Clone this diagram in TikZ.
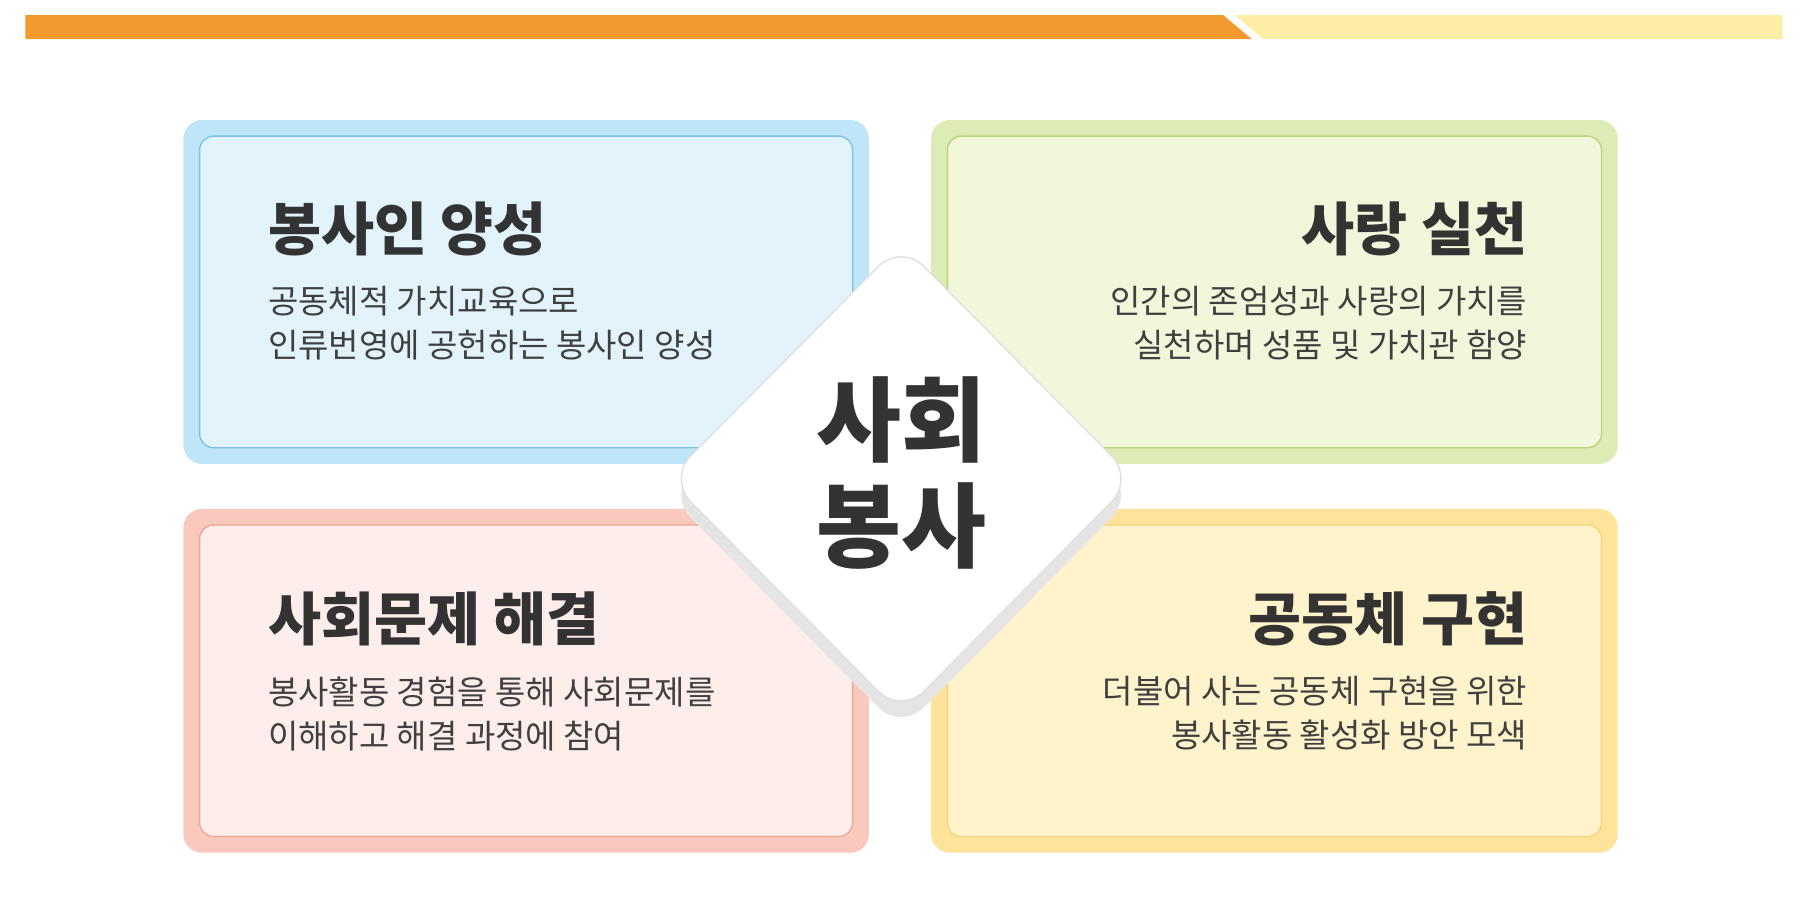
\documentclass[tikz,border=0pt]{standalone}
\usepackage{fontspec}
\setmainfont{Noto Sans CJK KR}
\newfontfamily\krb{Noto Sans CJK KR Black}
\begin{document}
\begin{tikzpicture}[x=0.5pt,y=-0.5pt,
  outerbox/.style={rounded corners=8pt},
  innerbox/.style={rounded corners=6pt,line width=0.6pt},
  ttl/.style={font=\krb\fontsize{25}{28}\selectfont,text=black!80,inner sep=0},
  body/.style={font=\fontsize{14.3}{19}\selectfont,text=black!75,inner sep=0,align=left}]
\definecolor{orng}{HTML}{F39A2E}\definecolor{lyel}{HTML}{FDEEA6}
\definecolor{bo}{HTML}{BEE5F8}\definecolor{bi}{HTML}{E2F3FB}\definecolor{bb}{HTML}{7DC4E4}
\definecolor{go}{HTML}{DDEBB5}\definecolor{gi}{HTML}{F2F7DC}\definecolor{gb}{HTML}{B9D57A}
\definecolor{ro}{HTML}{FAC9BD}\definecolor{ri}{HTML}{FDEEEB}\definecolor{rb}{HTML}{EDA594}
\definecolor{yo}{HTML}{FDE49A}\definecolor{yi}{HTML}{FFF3CC}\definecolor{yb}{HTML}{F5D27B}
\useasboundingbox (0,0) rectangle (1560,783);
\fill[white] (0,0) rectangle (1560,783);
\fill[orng] (22,13) -- (1060,13) -- (1085,34) -- (22,34) -- cycle;
\fill[lyel] (1070,13) -- (1545,13) -- (1545,34) -- (1095,34) -- cycle;
% boxes
\fill[bo,outerbox] (159,104) rectangle (753,402);
\draw[bb,fill=bi,innerbox] (173,118) rectangle (739,388);
\fill[go,outerbox] (807,104) rectangle (1402,402);
\draw[gb,fill=gi,innerbox] (821,118) rectangle (1388,388);
\fill[ro,outerbox] (159,441) rectangle (753,739);
\draw[rb,fill=ri,innerbox] (173,455) rectangle (739,725);
\fill[yo,outerbox] (807,441) rectangle (1402,739);
\draw[yb,fill=yi,innerbox] (821,455) rectangle (1388,725);
% diamond
\fill[black!10,rounded corners=14pt] (781,225)--(983,429)--(781,633)--(579,429)--cycle;
\draw[black!12,fill=white,rounded corners=14pt,line width=0.6pt] (781,211)--(983,415)--(781,619)--(579,415)--cycle;
\node[font=\krb\fontsize{40}{46}\selectfont,text=black!80,align=center] (c) at (781,410) {사회\\봉사};
% texts
\node[ttl,anchor=west] (t1) at (232,198) {봉사인 양성};
\node[body,anchor=north west] (b1) at (232,248) {공동체적 가치교육으로\\인류번영에 공헌하는 봉사인 양성};
\node[ttl,anchor=east] (t2) at (1324,198) {사랑 실천};
\node[body,anchor=north east,align=right] (b2) at (1324,248) {인간의 존엄성과 사랑의 가치를\\실천하며 성품 및 가치관 함양};
\node[ttl,anchor=west] (t3) at (232,536) {사회문제 해결};
\node[body,anchor=north west] (b3) at (232,586) {봉사활동 경험을 통해 사회문제를\\이해하고 해결 과정에 참여};
\node[ttl,anchor=east] (t4) at (1324,536) {공동체 구현};
\node[body,anchor=north east,align=right] (b4) at (1324,586) {더불어 사는 공동체 구현을 위한\\봉사활동 활성화 방안 모색};
\end{tikzpicture}
\end{document}
